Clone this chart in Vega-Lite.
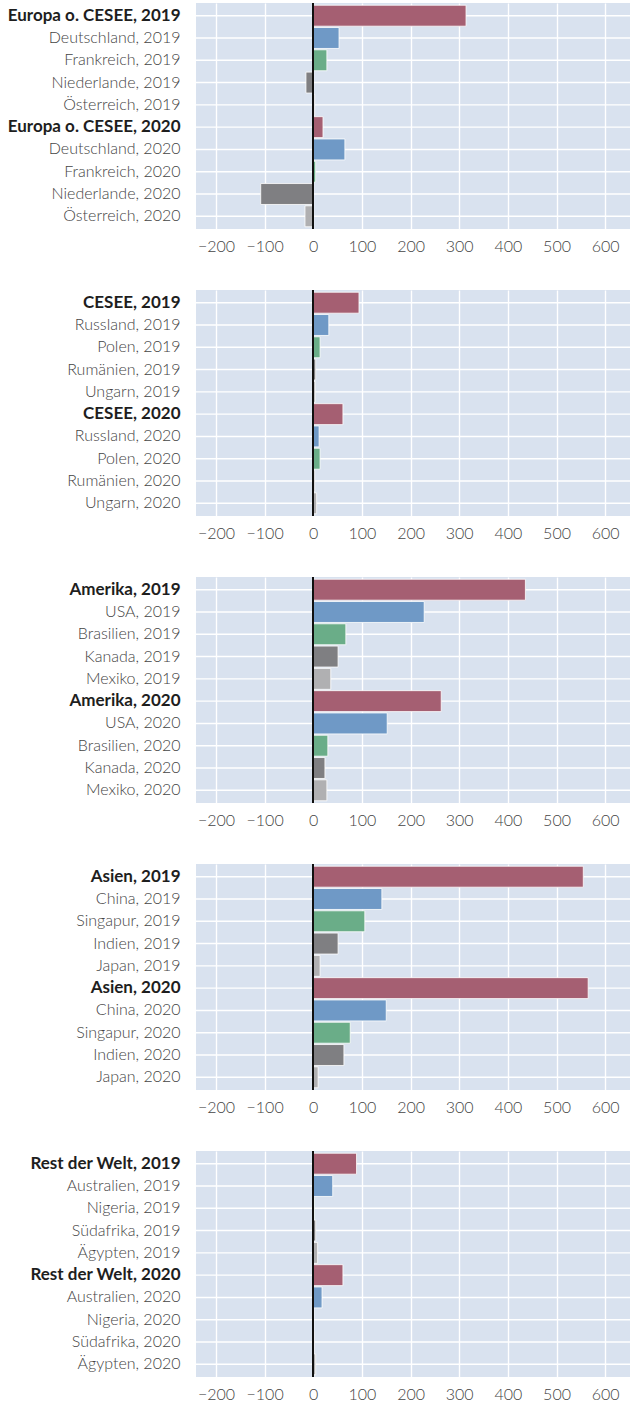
{
  "$schema": "https://vega.github.io/schema/vega-lite/v6.json",
  "padding": {"left": 7, "top": 2, "right": 0, "bottom": 0},
  "background": "white",
  "spacing": 34,
  "datasets": {
    "rows": [
      {"panel": 1, "label": "Europa o. CESEE, 2019", "value": 314, "cat": "agg"},
      {"panel": 1, "label": "Deutschland, 2019", "value": 53, "cat": "c1"},
      {"panel": 1, "label": "Frankreich, 2019", "value": 28, "cat": "c2"},
      {"panel": 1, "label": "Niederlande, 2019", "value": -15, "cat": "c3"},
      {"panel": 1, "label": "Österreich, 2019", "value": 3, "cat": "c4"},
      {"panel": 1, "label": "Europa o. CESEE, 2020", "value": 20, "cat": "agg"},
      {"panel": 1, "label": "Deutschland, 2020", "value": 65, "cat": "c1"},
      {"panel": 1, "label": "Frankreich, 2020", "value": 5, "cat": "c2"},
      {"panel": 1, "label": "Niederlande, 2020", "value": -108, "cat": "c3"},
      {"panel": 1, "label": "Österreich, 2020", "value": -17, "cat": "c4"},
      {"panel": 2, "label": "CESEE, 2019", "value": 94, "cat": "agg"},
      {"panel": 2, "label": "Russland, 2019", "value": 32, "cat": "c1"},
      {"panel": 2, "label": "Polen, 2019", "value": 14, "cat": "c2"},
      {"panel": 2, "label": "Rumänien, 2019", "value": 5, "cat": "c3"},
      {"panel": 2, "label": "Ungarn, 2019", "value": 4, "cat": "c4"},
      {"panel": 2, "label": "CESEE, 2020", "value": 61, "cat": "agg"},
      {"panel": 2, "label": "Russland, 2020", "value": 12, "cat": "c1"},
      {"panel": 2, "label": "Polen, 2020", "value": 14, "cat": "c2"},
      {"panel": 2, "label": "Rumänien, 2020", "value": 3, "cat": "c3"},
      {"panel": 2, "label": "Ungarn, 2020", "value": 7, "cat": "c4"},
      {"panel": 3, "label": "Amerika, 2019", "value": 436, "cat": "agg"},
      {"panel": 3, "label": "USA, 2019", "value": 228, "cat": "c1"},
      {"panel": 3, "label": "Brasilien, 2019", "value": 67, "cat": "c2"},
      {"panel": 3, "label": "Kanada, 2019", "value": 51, "cat": "c3"},
      {"panel": 3, "label": "Mexiko, 2019", "value": 36, "cat": "c4"},
      {"panel": 3, "label": "Amerika, 2020", "value": 263, "cat": "agg"},
      {"panel": 3, "label": "USA, 2020", "value": 152, "cat": "c1"},
      {"panel": 3, "label": "Brasilien, 2020", "value": 30, "cat": "c2"},
      {"panel": 3, "label": "Kanada, 2020", "value": 24, "cat": "c3"},
      {"panel": 3, "label": "Mexiko, 2020", "value": 28, "cat": "c4"},
      {"panel": 4, "label": "Asien, 2019", "value": 555, "cat": "agg"},
      {"panel": 4, "label": "China, 2019", "value": 141, "cat": "c1"},
      {"panel": 4, "label": "Singapur, 2019", "value": 106, "cat": "c2"},
      {"panel": 4, "label": "Indien, 2019", "value": 51, "cat": "c3"},
      {"panel": 4, "label": "Japan, 2019", "value": 14, "cat": "c4"},
      {"panel": 4, "label": "Asien, 2020", "value": 565, "cat": "agg"},
      {"panel": 4, "label": "China, 2020", "value": 150, "cat": "c1"},
      {"panel": 4, "label": "Singapur, 2020", "value": 76, "cat": "c2"},
      {"panel": 4, "label": "Indien, 2020", "value": 63, "cat": "c3"},
      {"panel": 4, "label": "Japan, 2020", "value": 10, "cat": "c4"},
      {"panel": 5, "label": "Rest der Welt, 2019", "value": 89, "cat": "agg"},
      {"panel": 5, "label": "Australien, 2019", "value": 40, "cat": "c1"},
      {"panel": 5, "label": "Nigeria, 2019", "value": 2, "cat": "c2"},
      {"panel": 5, "label": "Südafrika, 2019", "value": 5, "cat": "c3"},
      {"panel": 5, "label": "Ägypten, 2019", "value": 9, "cat": "c4"},
      {"panel": 5, "label": "Rest der Welt, 2020", "value": 61, "cat": "agg"},
      {"panel": 5, "label": "Australien, 2020", "value": 18, "cat": "c1"},
      {"panel": 5, "label": "Nigeria, 2020", "value": 1, "cat": "c2"},
      {"panel": 5, "label": "Südafrika, 2020", "value": 2, "cat": "c3"},
      {"panel": 5, "label": "Ägypten, 2020", "value": 5, "cat": "c4"}
    ]
  },
  "data": {"name": "rows"},
  "vconcat": [
    {"width": 434, "height": 226, "transform": [{"filter": "datum.panel == 1"}],
     "layer": [
       {"mark": {"type": "rule", "color": "#ffffff", "strokeWidth": 1.4}, "encoding": {"y": {"field": "label", "type": "nominal", "sort": null, "title": null}}},
       {"mark": {"type": "bar", "stroke": "#ffffff", "strokeWidth": 0.8}, "encoding": {
         "y": {"field": "label", "type": "nominal", "sort": null, "title": null},
         "x": {"field": "value", "type": "quantitative", "title": null, "scale": {"domain": [-241, 651], "nice": false, "zero": false}},
         "color": {"field": "cat", "type": "nominal", "legend": null}}},
       {"mark": {"type": "rule", "color": "#111111", "strokeWidth": 1.5}, "encoding": {"x": {"datum": 0, "type": "quantitative"}}}
     ]},
    {"width": 434, "height": 226, "transform": [{"filter": "datum.panel == 2"}],
     "layer": [
       {"mark": {"type": "rule", "color": "#ffffff", "strokeWidth": 1.4}, "encoding": {"y": {"field": "label", "type": "nominal", "sort": null, "title": null}}},
       {"mark": {"type": "bar", "stroke": "#ffffff", "strokeWidth": 0.8}, "encoding": {
         "y": {"field": "label", "type": "nominal", "sort": null, "title": null},
         "x": {"field": "value", "type": "quantitative", "title": null, "scale": {"domain": [-241, 651], "nice": false, "zero": false}},
         "color": {"field": "cat", "type": "nominal", "legend": null}}},
       {"mark": {"type": "rule", "color": "#111111", "strokeWidth": 1.5}, "encoding": {"x": {"datum": 0, "type": "quantitative"}}}
     ]},
    {"width": 434, "height": 226, "transform": [{"filter": "datum.panel == 3"}],
     "layer": [
       {"mark": {"type": "rule", "color": "#ffffff", "strokeWidth": 1.4}, "encoding": {"y": {"field": "label", "type": "nominal", "sort": null, "title": null}}},
       {"mark": {"type": "bar", "stroke": "#ffffff", "strokeWidth": 0.8}, "encoding": {
         "y": {"field": "label", "type": "nominal", "sort": null, "title": null},
         "x": {"field": "value", "type": "quantitative", "title": null, "scale": {"domain": [-241, 651], "nice": false, "zero": false}},
         "color": {"field": "cat", "type": "nominal", "legend": null}}},
       {"mark": {"type": "rule", "color": "#111111", "strokeWidth": 1.5}, "encoding": {"x": {"datum": 0, "type": "quantitative"}}}
     ]},
    {"width": 434, "height": 226, "transform": [{"filter": "datum.panel == 4"}],
     "layer": [
       {"mark": {"type": "rule", "color": "#ffffff", "strokeWidth": 1.4}, "encoding": {"y": {"field": "label", "type": "nominal", "sort": null, "title": null}}},
       {"mark": {"type": "bar", "stroke": "#ffffff", "strokeWidth": 0.8}, "encoding": {
         "y": {"field": "label", "type": "nominal", "sort": null, "title": null},
         "x": {"field": "value", "type": "quantitative", "title": null, "scale": {"domain": [-241, 651], "nice": false, "zero": false}},
         "color": {"field": "cat", "type": "nominal", "legend": null}}},
       {"mark": {"type": "rule", "color": "#111111", "strokeWidth": 1.5}, "encoding": {"x": {"datum": 0, "type": "quantitative"}}}
     ]},
    {"width": 434, "height": 226, "transform": [{"filter": "datum.panel == 5"}],
     "layer": [
       {"mark": {"type": "rule", "color": "#ffffff", "strokeWidth": 1.4}, "encoding": {"y": {"field": "label", "type": "nominal", "sort": null, "title": null}}},
       {"mark": {"type": "bar", "stroke": "#ffffff", "strokeWidth": 0.8}, "encoding": {
         "y": {"field": "label", "type": "nominal", "sort": null, "title": null},
         "x": {"field": "value", "type": "quantitative", "title": null, "scale": {"domain": [-241, 651], "nice": false, "zero": false}},
         "color": {"field": "cat", "type": "nominal", "legend": null}}},
       {"mark": {"type": "rule", "color": "#111111", "strokeWidth": 1.5}, "encoding": {"x": {"datum": 0, "type": "quantitative"}}}
     ]}
  ],
  "resolve": {"scale": {"y": "independent"}},
  "config": {
    "view": {"fill": "#d9e2ef", "stroke": null},
    "scale": {"bandPaddingInner": 0.06, "bandPaddingOuter": 0.1},
    "range": {"category": ["#a55f72", "#6f99c6", "#6aad88", "#7f7f82", "#b0b0b2"]},
    "axis": {
      "domain": false, "ticks": false, "grid": true, "gridColor": "#ffffff", "gridWidth": 1.4, "gridOpacity": 1,
      "labelFont": "Lato", "labelFontSize": 16, "labelColor": "#444444", "labelFontWeight": 300
    },
    "axisX": {
      "values": [-200, -100, 0, 100, 200, 300, 400, 500, 600],
      "labelPadding": 9, "minExtent": 26, "maxExtent": 26, "labelFlush": false
    },
    "axisY": {
      "grid": false,
      "labelPadding": 16, "minExtent": 186, "maxExtent": 186, "labelLimit": 300,
      "labelFontWeight": {"condition": {"test": "test(/CESEE|Amerika|Asien|Welt/, datum.value)", "value": 700}, "value": 300},
      "labelFontSize": {"condition": {"test": "test(/CESEE|Amerika|Asien|Welt/, datum.value)", "value": 17}, "value": 16},
      "labelColor": {"condition": {"test": "test(/CESEE|Amerika|Asien|Welt/, datum.value)", "value": "#1e1e1e"}, "value": "#444444"}
    },
    "bar": {"orient": "horizontal"},
    "concat": {"spacing": 34}
  }
}
